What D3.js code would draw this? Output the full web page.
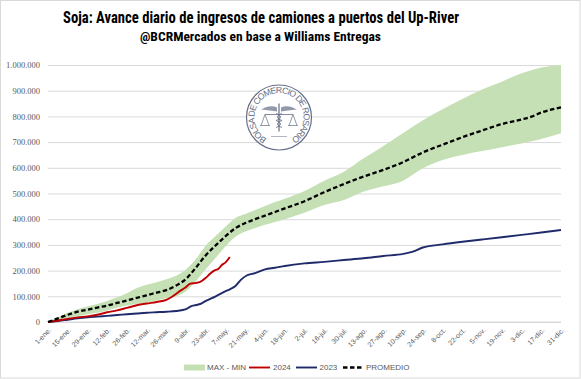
<!DOCTYPE html>
<html><head><meta charset="utf-8">
<script src="https://cdn.jsdelivr.net/npm/d3@7"></script>
<style>
body{margin:0;background:#fff}
svg{display:block}
text{font-family:"Liberation Sans",Arial,sans-serif}
</style>
</head><body>
<svg id="c" width="581" height="379"></svg>
<script>
// ---- DATA (values in thousands of tonnes, day-of-year index from 1-ene) ----
const days = [0,7,14,21,28,35,42,49,56,63,70,77,84,91,98,105,112,119,126,133,140,147,154,161,168,182,196,210,224,238,252,266,280,294,308,322,336,343,350,364];
const promedio = [0,14,28,40,48,56,64,74,84,94,104,114,124,142,168,212,260,298,334,365,385,400,414,428,442,470,505,537,566,592,622,660,690,719,745,770,788,799,815,835];
const maxVals  = [0,18,36,50,60,70,82,96,112,132,145,155,166,180,205,245,298,335,372,405,420,436,451,467,480,510,550,585,637,685,735,785,828,868,905,935,968,980,990,1000];
const minVals  = [0,6,15,22,30,36,45,55,64,70,76,84,92,100,120,160,206,250,295,332,352,366,378,389,400,425,455,475,508,528,550,598,630,650,665,680,695,703,712,734];

const days2024 = [0,7,14,21,28,35,42,49,56,63,70,77,84,88,91,94,97,101,105,108,112,115,118,121,123,126,129];
const v2024    = [0,6,12,18,22,28,38,45,55,65,72,78,86,98,110,122,132,149,152,156,172,188,200,207,220,232,253];

const days2023 = [0,7,14,21,28,35,42,49,56,63,70,77,84,91,98,101,105,108,112,119,126,129,133,137,141,147,154,161,168,182,196,210,224,238,252,259,266,280,294,308,322,336,350,364];
const v2023    = [0,4,9,14,18,21,24,27,30,33,36,38,40,43,50,60,66,70,82,100,120,127,140,165,181,190,205,211,218,228,234,241,248,257,265,274,290,302,312,321,330,339,348,358];

const yTicks = [0,100000,200000,300000,400000,500000,600000,700000,800000,900000,1000000];
const xTickLabels = ["1-ene.","15-ene.","29-ene.","12-feb.","26-feb.","12-mar.","26-mar.","9-abr.","23-abr.","7-may.","21-may.","4-jun.","18-jun.","2-jul.","16-jul.","30-jul.","13-ago.","27-ago.","10-sep.","24-sep.","8-oct.","22-oct.","5-nov.","19-nov.","3-dic.","17-dic.","31-dic."];
const xTickStepDays = 14;
const legendItems = ["MAX - MIN","2024","2023","PROMEDIO"];
const title = "Soja: Avance diario de ingresos de camiones a puertos del Up-River";
const subtitle = "@BCRMercados en base a Williams Entregas";

// ---- CHART ----
const svg = d3.select("#c");
const W = 581, H = 379;
const x = d3.scaleLinear().domain([0,364]).range([48,561]);
const y = d3.scaleLinear().domain([0,1000000]).range([322,65]);
const loc = d3.formatLocale({decimal:",",thousands:".",grouping:[3],currency:["$",""]});
const fmt = loc.format(",d");

svg.append("rect").attr("x",0.5).attr("y",0.5).attr("width",W-1.5).attr("height",H-1.5)
  .attr("fill","#fff").attr("stroke","#d9d9d9");

// titles
const condensed = '"Liberation Sans Narrow","Arial Narrow","Roboto Condensed","Liberation Sans",sans-serif';
svg.append("text").attr("x",261).attr("y",23).attr("text-anchor","middle")
  .style("font-family",condensed).style("font-weight","bold").style("font-size","17px")
  .attr("textLength",396).attr("lengthAdjust","spacingAndGlyphs").attr("fill","#000").text(title);
svg.append("text").attr("x",260.5).attr("y",40.5).attr("text-anchor","middle")
  .style("font-family",condensed).style("font-weight","bold").style("font-size","13.5px")
  .attr("textLength",241).attr("lengthAdjust","spacingAndGlyphs").attr("fill","#000").text(subtitle);

// y axis with gridlines
const yAxis = d3.axisLeft(y).tickValues(yTicks).tickFormat(fmt).tickSize(-(561-48)).tickPadding(8);
const gy = svg.append("g").attr("transform","translate(48,0)").call(yAxis);
gy.select(".domain").remove();
gy.selectAll(".tick line").attr("stroke","#d9d9d9").attr("stroke-width",1);
gy.selectAll(".tick text").attr("fill","#595959").style("font-size","8.5px").style("font-family",'"Liberation Serif","DejaVu Serif",serif');

// watermark seal
const seal = svg.append("g").attr("transform","translate(279,117.5)").attr("opacity",0.9);
const sc = "#55607a";
seal.append("circle").attr("r",32.5).attr("fill","#fff").attr("stroke",sc).attr("stroke-width",1.2);
const rT = 24.5;
const a0 = -150*Math.PI/180, a1 = 150*Math.PI/180;
const arcPath = `M${rT*Math.sin(a0)},${-rT*Math.cos(a0)} A${rT},${rT} 0 1 1 ${rT*Math.sin(a1)},${-rT*Math.cos(a1)}`;
seal.append("path").attr("id","sealArc").attr("d",arcPath).attr("fill","none");
seal.append("text").style("font-size","8.8px").attr("fill",sc)
  .append("textPath").attr("href","#sealArc").attr("textLength",128).attr("lengthAdjust","spacing")
  .text("BOLSA DE COMERCIO DE ROSARIO");
// caduceus & scales
seal.append("line").attr("x1",0).attr("y1",-14).attr("x2",0).attr("y2",14).attr("stroke",sc).attr("stroke-width",1.2);
seal.append("path").attr("d","M-2,-10 C-8,-13 -14,-10 -18,-8 C-12,-7 -6,-7 -2,-6 Z M2,-10 C8,-13 14,-10 18,-8 C12,-7 6,-7 2,-6 Z").attr("fill",sc).attr("opacity",0.7);
seal.append("path").attr("d","M-3,-4 C3,-2 3,1 -3,3 C3,5 3,8 -3,10 M3,-4 C-3,-2 -3,1 3,3 C-3,5 -3,8 3,10").attr("fill","none").attr("stroke",sc).attr("stroke-width",0.8);
seal.append("line").attr("x1",-14).attr("y1",-3).attr("x2",14).attr("y2",-3).attr("stroke",sc).attr("stroke-width",0.8);
seal.append("path").attr("d","M-14,-3 L-18,8 M-14,-3 L-10,8 M-19,8 L-9,8 M14,-3 L18,8 M14,-3 L10,8 M19,8 L9,8").attr("fill","none").attr("stroke",sc).attr("stroke-width",0.7);
seal.append("line").attr("x1",-8).attr("y1",19).attr("x2",8).attr("y2",19).attr("stroke",sc).attr("stroke-width",0.5);

// x axis
const xTickDays = xTickLabels.map((_,i)=>i*xTickStepDays);
svg.append("line").attr("x1",48).attr("x2",561).attr("y1",y(0)).attr("y2",y(0)).attr("stroke","#d9d9d9");
const gx = svg.append("g");
gx.selectAll("text").data(xTickLabels).join("text")
  .attr("transform",(d,i)=>`translate(${x(xTickDays[i])+2},${329}) rotate(-45)`)
  .attr("text-anchor","end").attr("dy","0.35em")
  .style("font-size","7px").attr("fill","#595959").text(d=>d);

// band
const band = d3.area().x((d,i)=>x(days[i])).y0((d,i)=>y(minVals[i]*1000)).y1((d,i)=>y(maxVals[i]*1000)).curve(d3.curveMonotoneX);
svg.append("path").datum(days).attr("d",band).attr("fill","#c5e0b4");

const line = (dd,vv)=>d3.line().x((d,i)=>x(dd[i])).y((d,i)=>y(vv[i]*1000)).curve(d3.curveMonotoneX)(dd);

svg.append("path").attr("d",line(days2023,v2023)).attr("fill","none").attr("stroke","#1f2a6b").attr("stroke-width",1.9);
svg.append("path").attr("d",line(days2024,v2024)).attr("fill","none").attr("stroke","#c00000").attr("stroke-width",1.9);
svg.append("path").attr("d",line(days,promedio)).attr("fill","none").attr("stroke","#000").attr("stroke-width",2.3).attr("stroke-dasharray","4.5,2.5");

// legend
const lg = svg.append("g").style("font-size","8px");
const ly = 367.5;
lg.append("rect").attr("x",184).attr("y",ly-3).attr("width",21).attr("height",6).attr("fill","#c5e0b4");
lg.append("text").attr("x",207).attr("y",ly).attr("dy","0.35em").attr("fill","#595959").text(legendItems[0]);
lg.append("line").attr("x1",249).attr("x2",270).attr("y1",ly).attr("y2",ly).attr("stroke","#c00000").attr("stroke-width",1.9);
lg.append("text").attr("x",273).attr("y",ly).attr("dy","0.35em").attr("fill","#595959").text(legendItems[1]);
lg.append("line").attr("x1",296).attr("x2",317).attr("y1",ly).attr("y2",ly).attr("stroke","#1f2a6b").attr("stroke-width",1.9);
lg.append("text").attr("x",319.5).attr("y",ly).attr("dy","0.35em").attr("fill","#595959").text(legendItems[2]);
lg.append("line").attr("x1",343).attr("x2",363).attr("y1",ly).attr("y2",ly).attr("stroke","#000").attr("stroke-width",2.3).attr("stroke-dasharray","4.5,2.5");
lg.append("text").attr("x",366).attr("y",ly).attr("dy","0.35em").attr("fill","#595959").text(legendItems[3]);
</script>
</body></html>
